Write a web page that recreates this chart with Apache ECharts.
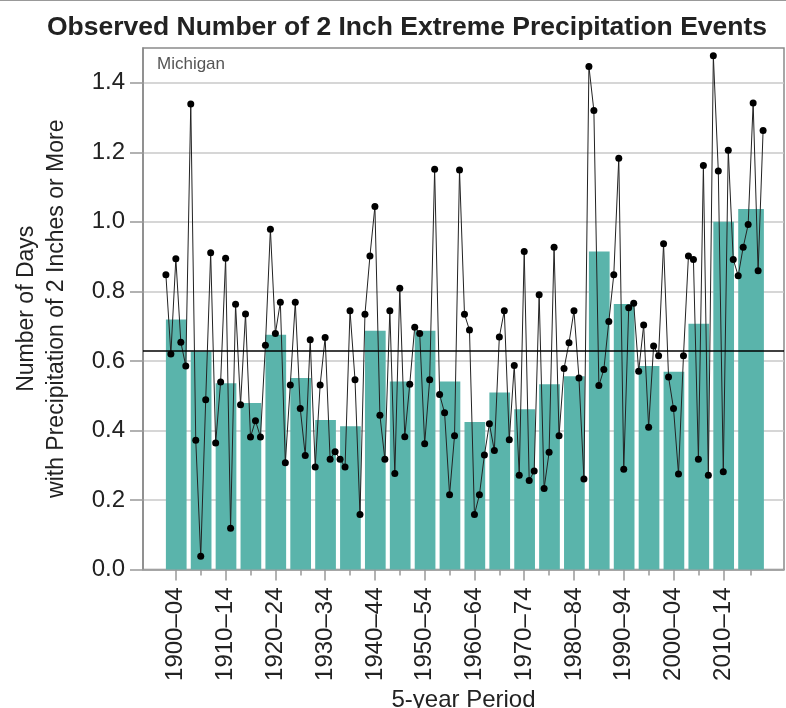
<!DOCTYPE html>
<html>
<head>
<meta charset="utf-8">
<script src="https://cdn.jsdelivr.net/npm/echarts@6/dist/echarts.min.js"></script>
<style>html,body{margin:0;padding:0;background:#fff}#chart{width:786px;height:708px}</style>
</head>
<body>
<div id="chart"></div>
<script>
// ---- data ----
const firstYear = 1900;
const annualValues = [
  0.848, 0.620, 0.894, 0.654, 0.585,
  1.339, 0.372, 0.038, 0.488, 0.911,
  0.364, 0.539, 0.895, 0.119, 0.763,
  0.474, 0.735, 0.381, 0.428, 0.381,
  0.645, 0.979, 0.679, 0.769, 0.307,
  0.531, 0.769, 0.463, 0.328, 0.661,
  0.295, 0.531, 0.667, 0.317, 0.339,
  0.317, 0.295, 0.744, 0.546, 0.158,
  0.734, 0.902, 1.044, 0.444, 0.317,
  0.744, 0.276, 0.809, 0.382, 0.533,
  0.697, 0.679, 0.362, 0.546, 1.151,
  0.503, 0.451, 0.215, 0.385, 1.149,
  0.734, 0.689, 0.158, 0.215, 0.329,
  0.419, 0.342, 0.669, 0.744, 0.373,
  0.587, 0.271, 0.915, 0.256, 0.283,
  0.790, 0.233, 0.337, 0.927, 0.385,
  0.578, 0.652, 0.744, 0.551, 0.260,
  1.447, 1.320, 0.529, 0.575, 0.713,
  0.848, 1.183, 0.288, 0.753, 0.766,
  0.570, 0.703, 0.409, 0.643, 0.615,
  0.937, 0.554, 0.463, 0.275, 0.615,
  0.902, 0.892, 0.317, 1.162, 0.271,
  1.478, 1.146, 0.281, 1.206, 0.892,
  0.845, 0.927, 0.992, 1.342, 0.859, 1.263
];
const periodStarts = [1900,1905,1910,1915,1920,1925,1930,1935,1940,1945,1950,1955,
                      1960,1965,1970,1975,1980,1985,1990,1995,2000,2005,2010,2015];
const periodEnds   = [1904,1909,1914,1919,1924,1929,1934,1939,1944,1949,1954,1959,
                      1964,1969,1974,1979,1984,1989,1994,1999,2004,2009,2014,2020];
const periodLabels = ['1900–04','1905–09','1910–14','1915–19','1920–24','1925–29',
                      '1930–34','1935–39','1940–44','1945–49','1950–54','1955–59',
                      '1960–64','1965–69','1970–74','1975–79','1980–84','1985–89',
                      '1990–94','1995–99','2000–04','2005–09','2010–14','2015–20'];
const periodValues = [0.719, 0.627, 0.536, 0.479, 0.675, 0.551, 0.430, 0.412,
                      0.687, 0.541, 0.687, 0.541, 0.424, 0.509, 0.461, 0.533,
                      0.556, 0.915, 0.764, 0.585, 0.569, 0.707, 1.000, 1.037];
const longTermAverage = 0.627;
const yTickValues = [0, 0.2, 0.4, 0.6, 0.8, 1.0, 1.2, 1.4];
const stateName = 'Michigan';

// ---- build ----
const annualData = annualValues.map((v, i) => [firstYear + i, v]);
const barData = periodValues.map((v, i) => [periodStarts[i], periodEnds[i], v]);
const centers = periodStarts.map((s, i) => (s + periodEnds[i]) / 2);
const labeledCenters = centers.filter((c, i) => i % 2 === 0);
const labelFor = v => {
  const i = centers.findIndex(c => Math.abs(c - v) < 0.01);
  return i >= 0 ? periodLabels[i] : '';
};

const FONT = "'Liberation Sans', Arial, Helvetica, sans-serif";
const FS = 24;
const xMin = 1895.4, xMax = 2024.2;
const chart = echarts.init(document.getElementById('chart'), null, {renderer: 'canvas'});
chart.setOption({
  animation: false,
  backgroundColor: '#fff',
  title: {
    text: 'Observed Number of 2 Inch Extreme Precipitation Events',
    left: 402, top: 9, textAlign: 'center',
    textStyle: {fontFamily: FONT, fontSize: 26.5, fontWeight: 'bold', color: '#222'}
  },
  graphic: [
    {type: 'text', left: 157, top: 56, style: {text: stateName, font: '17px ' + FONT, fill: '#555'}},
    {type: 'line', shape: {x1: 0, y1: 0.5, x2: 786, y2: 0.5}, style: {stroke: '#999', lineWidth: 1}}
  ],
  grid: {left: 143, right: 2, top: 48, bottom: 138.5, show: true, borderColor: '#8a8a8a', borderWidth: 1.5,
    containLabel: false, outerBoundsMode: 'none'},
  xAxis: [
    {
      type: 'value', min: xMin, max: xMax, position: 'bottom',
      axisLine: {show: true, onZero: false, lineStyle: {color: '#999', width: 1.5}},
      axisTick: {show: true, customValues: centers, length: 6, lineStyle: {color: '#999', width: 1.5}},
      axisLabel: {show: false},
      splitLine: {show: false}
    },
    {
      type: 'value', min: xMin, max: xMax, position: 'bottom',
      axisLine: {show: false, onZero: false},
      axisTick: {show: true, customValues: labeledCenters, length: 11, lineStyle: {color: '#999', width: 1.5}},
      axisLabel: {show: true, customValues: labeledCenters, rotate: 90, margin: 18,
        formatter: labelFor, fontFamily: FONT, fontSize: FS, color: '#222'},
      splitLine: {show: false},
      name: '5-year Period', nameLocation: 'middle', nameGap: 115,
      nameTextStyle: {fontFamily: FONT, fontSize: FS, color: '#222'}
    }
  ],
  yAxis: {
    type: 'value', min: 0, max: 1.5, interval: 0.2,
    axisLine: {show: true, lineStyle: {color: '#8a8a8a', width: 1.5}},
    axisTick: {show: true, customValues: yTickValues, length: 13, lineStyle: {color: '#999', width: 1.5}},
    axisLabel: {customValues: yTickValues, margin: 18, formatter: v => v.toFixed(1),
      fontFamily: FONT, fontSize: FS, color: '#222'},
    splitLine: {show: true, lineStyle: {color: '#c8c8c8', width: 1.5}},
    name: 'Number of Days\nwith Precipitation of 2 Inches or More',
    nameLocation: 'middle', nameGap: 71, nameRotate: 90,
    nameTextStyle: {fontFamily: FONT, fontSize: FS - 1, color: '#222', lineHeight: 30}
  },
  series: [
    {
      type: 'custom', xAxisIndex: 0, yAxisIndex: 0, data: barData,
      encode: {x: [0, 1], y: 2},
      renderItem: (params, api) => {
        const p0 = api.coord([api.value(0), api.value(2)]);
        const p1 = api.coord([api.value(1) + 0.16, 0]);
        return {type: 'rect', shape: {x: p0[0], y: p0[1], width: p1[0] - p0[0], height: p1[1] - p0[1]},
          style: {fill: '#5ab4ab'}};
      },
      z: 2
    },
    {
      type: 'line', xAxisIndex: 0, yAxisIndex: 0, data: annualData,
      symbol: 'circle', symbolSize: 7,
      itemStyle: {color: '#000'},
      lineStyle: {color: '#222', width: 1},
      z: 4,
      markLine: {
        silent: true, symbol: 'none', label: {show: false},
        lineStyle: {color: '#000', width: 1.5, type: 'solid'},
        data: [{yAxis: longTermAverage}]
      }
    }
  ]
});
</script>
</body>
</html>
